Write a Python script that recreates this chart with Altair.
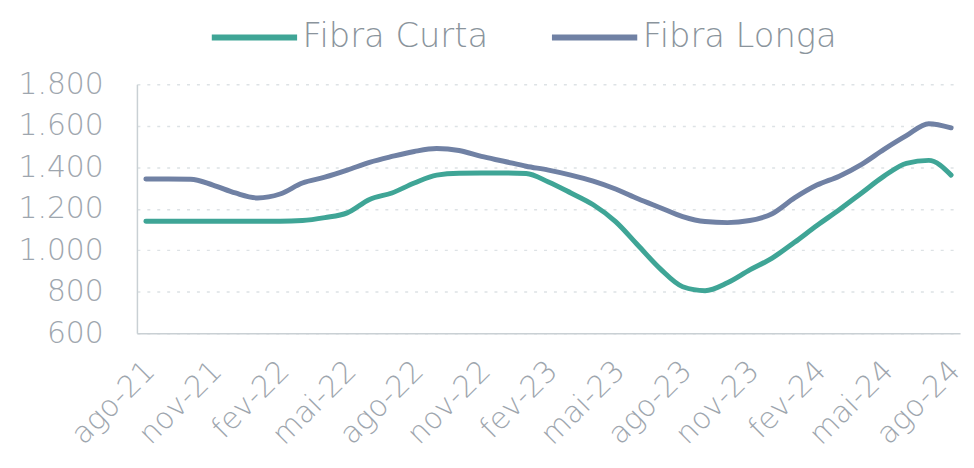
import altair as alt
import pandas as pd

months = [
    "ago-21", "set-21", "out-21", "nov-21", "dez-21", "jan-22", "fev-22", "mar-22", "abr-22",
    "mai-22", "jun-22", "jul-22", "ago-22", "set-22", "out-22", "nov-22", "dez-22", "jan-23",
    "fev-23", "mar-23", "abr-23", "mai-23", "jun-23", "jul-23", "ago-23", "set-23", "out-23",
    "nov-23", "dez-23", "jan-24", "fev-24", "mar-24", "abr-24", "mai-24", "jun-24", "jul-24",
    "ago-24",
]
fibra_curta = [
    1140, 1140, 1140, 1140, 1140, 1140, 1140, 1143, 1157, 1180, 1245, 1276, 1324, 1362,
    1371, 1372, 1372, 1370, 1329, 1276, 1219, 1138, 1024, 910, 824, 805, 843, 905, 962,
    1038, 1119, 1195, 1276, 1357, 1419, 1433, 1362,
]
fibra_longa = [
    1343, 1343, 1342, 1314, 1276, 1252, 1271, 1324, 1352, 1386, 1424, 1452, 1476, 1490,
    1481, 1452, 1429, 1405, 1386, 1362, 1333, 1295, 1248, 1205, 1162, 1138, 1133, 1143,
    1176, 1252, 1314, 1357, 1414, 1486, 1552, 1610, 1590,
]
tick_labels = months[::3]
series_names = ["Fibra Curta", "Fibra Longa"]
colors = ["#3fa596", "#7081a4"]

rows = []
for i, m in enumerate(months):
    rows.append({"mes": m, "serie": series_names[0], "valor": fibra_curta[i]})
    rows.append({"mes": m, "serie": series_names[1], "valor": fibra_longa[i]})
df = pd.DataFrame(rows)

FONT = "DejaVu Sans"
GRAY = "#9ea6ae"

chart = (
    alt.Chart(df)
    .mark_line(strokeWidth=5, interpolate="monotone", strokeCap="round")
    .encode(
        x=alt.X(
            "mes:O",
            sort=months,
            scale=alt.Scale(type="point", padding=0.4),
            axis=alt.Axis(
                values=tick_labels,
                labelAngle=-45,
                labelAlign="right",
                labelBaseline="middle",
                labelFontSize=30,
                labelFont=FONT,
                labelFontWeight=200,
                labelColor=GRAY,
                labelPadding=33,
                labelOffset=4,
                labelOverlap=False,
                labelFlush=False,
                ticks=False,
                domainColor="#c9d0d4",
                domainWidth=1.5,
                title=None,
                grid=False,
            ),
        ),
        y=alt.Y(
            "valor:Q",
            scale=alt.Scale(domain=[600, 1800], nice=False, zero=False),
            axis=alt.Axis(
                values=[600, 800, 1000, 1200, 1400, 1600, 1800],
                labelExpr="replace(format(datum.value, ','), ',', '.')",
                labelFontSize=30,
                labelFont=FONT,
                labelFontWeight=200,
                labelColor=GRAY,
                labelPadding=34,
                ticks=False,
                domainColor="#c9d0d4",
                domainWidth=1.5,
                gridColor="#dde2e5",
                gridDash=[3, 7],
                gridWidth=1.5,
                title=None,
            ),
        ),
        color=alt.Color(
            "serie:N",
            sort=series_names,
            scale=alt.Scale(domain=series_names, range=colors),
            legend=alt.Legend(
                orient="none",
                legendX=72,
                legendY=-94,
                direction="horizontal",
                title=None,
                symbolType="stroke",
                symbolSize=7400,
                symbolStrokeWidth=6,
                labelFontSize=34,
                labelFont=FONT,
                labelFontWeight=200,
                labelColor="#8a949c",
                labelOffset=2,
                columnPadding=51,
                labelLimit=400,
            ),
        ),
    )
    .properties(
        width=830,
        height=251,
        autosize=alt.AutoSizeParams(type="none"),
        padding={"left": 130, "top": 75, "right": 6, "bottom": 130},
    )
    .configure_view(stroke=None)
)

chart.save("out.html", embed_options={"renderer": "svg", "actions": False})
